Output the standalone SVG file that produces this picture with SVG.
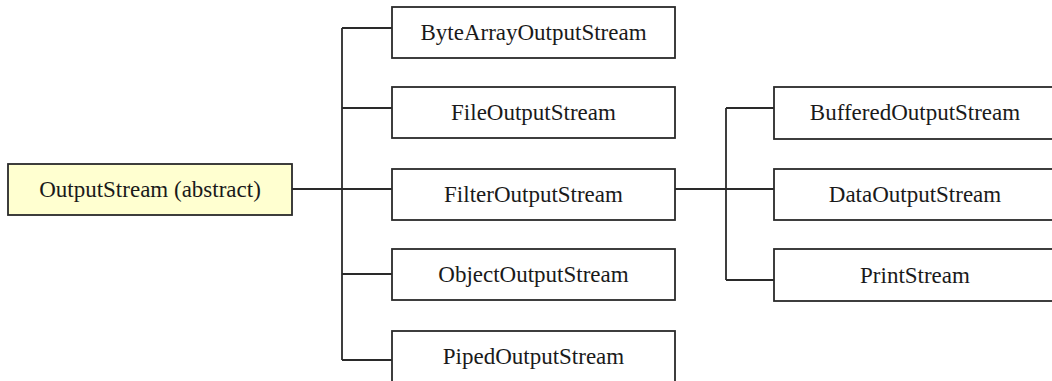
<svg xmlns="http://www.w3.org/2000/svg" width="1052" height="381" viewBox="0 0 1052 381">
<style>
.box{fill:#ffffff;stroke:#2a2a2a;stroke-width:1.8}
.root{fill:#ffffd0;stroke:#2a2a2a;stroke-width:1.8}
.lbl{font-family:"Liberation Serif","Times New Roman",serif;font-size:23px;fill:#1a1a1a;text-anchor:middle}
.conn{fill:none;stroke:#2a2a2a;stroke-width:1.8}
</style>
<rect width="1052" height="381" fill="#ffffff"/>
<g id="connectors">
<path class="conn" d="M292,189 H392"/>
<path class="conn" d="M342,28 V360"/>
<path class="conn" d="M342,28 H392 M342,108 H392 M342,274 H392 M342,360 H392"/>
<path class="conn" d="M675,189 H774"/>
<path class="conn" d="M726,108 V280"/>
<path class="conn" d="M726,108 H774 M726,280 H774"/>
</g>
<g id="OutputStream">
<rect class="root" x="8" y="164" width="284" height="51"/>
<text class="lbl" x="150" y="197">OutputStream (abstract)</text>
</g>
<g id="ByteArrayOutputStream">
<rect class="box" x="392" y="7" width="283" height="51"/>
<text class="lbl" x="533.5" y="40">ByteArrayOutputStream</text>
</g>
<g id="FileOutputStream">
<rect class="box" x="392" y="87" width="283" height="51"/>
<text class="lbl" x="533.5" y="120">FileOutputStream</text>
</g>
<g id="FilterOutputStream">
<rect class="box" x="392" y="169" width="283" height="51"/>
<text class="lbl" x="533.5" y="202">FilterOutputStream</text>
</g>
<g id="ObjectOutputStream">
<rect class="box" x="392" y="249" width="283" height="51"/>
<text class="lbl" x="533.5" y="282">ObjectOutputStream</text>
</g>
<g id="PipedOutputStream">
<rect class="box" x="392" y="331" width="283" height="51"/>
<text class="lbl" x="533.5" y="364">PipedOutputStream</text>
</g>
<g id="BufferedOutputStream">
<rect class="box" x="774" y="87" width="284" height="52"/>
<text class="lbl" x="915" y="120">BufferedOutputStream</text>
</g>
<g id="DataOutputStream">
<rect class="box" x="774" y="169" width="284" height="51"/>
<text class="lbl" x="915" y="202">DataOutputStream</text>
</g>
<g id="PrintStream">
<rect class="box" x="774" y="249" width="284" height="52"/>
<text class="lbl" x="915" y="283">PrintStream</text>
</g>
</svg>
